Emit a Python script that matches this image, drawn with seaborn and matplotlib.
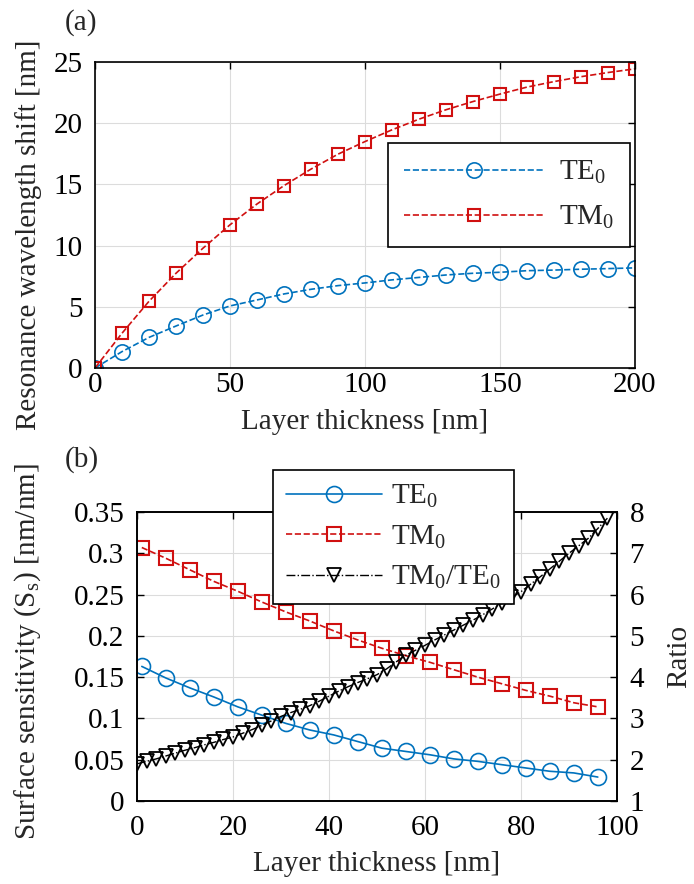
import matplotlib
matplotlib.use("Agg")
import matplotlib.pyplot as plt
import seaborn as sns
import pandas as pd

# (a) resonance wavelength shift vs layer thickness
thick_a = [0, 10, 20, 30, 40, 50, 60, 70, 80, 90, 100,
           110, 120, 130, 140, 150, 160, 170, 180, 190, 200]
shift_te = [0.0, 1.34, 2.5, 3.43, 4.33, 5.07, 5.56, 6.05, 6.43, 6.73, 6.95,
            7.2, 7.4, 7.6, 7.74, 7.82, 7.95, 8.0, 8.07, 8.12, 8.18]
shift_tm = [0.0, 2.84, 5.45, 7.74, 9.79, 11.7, 13.4, 14.9, 16.25, 17.47, 18.5,
            19.46, 20.33, 21.1, 21.77, 22.38, 22.95, 23.4, 23.8, 24.14, 24.44]

# (b) surface sensitivity vs layer thickness
thick_b = [1, 6, 11, 16, 21, 26, 31, 36, 41, 46,
           51, 56, 61, 66, 71, 76, 81, 86, 91, 96]
sens_te = [0.163, 0.149, 0.137, 0.126, 0.114, 0.104, 0.094, 0.086, 0.080, 0.072,
           0.064, 0.060, 0.056, 0.051, 0.048, 0.044, 0.040, 0.036, 0.034, 0.029]
sens_tm = [0.307, 0.294, 0.280, 0.266, 0.254, 0.241, 0.229, 0.218, 0.206, 0.195,
           0.185, 0.176, 0.168, 0.159, 0.150, 0.142, 0.134, 0.127, 0.119, 0.114]
thick_ratio = list(range(0, 100, 2))
ratio = [1.90, 1.96, 2.02, 2.09, 2.16, 2.23, 2.29, 2.36, 2.42, 2.49,
         2.55, 2.64, 2.73, 2.83, 2.94, 3.05, 3.14, 3.22, 3.31, 3.42,
         3.54, 3.66, 3.77, 3.87, 3.96, 4.06, 4.20, 4.37, 4.53, 4.65,
         4.77, 4.90, 5.02, 5.14, 5.26, 5.38, 5.51, 5.65, 5.79, 5.93,
         6.07, 6.25, 6.43, 6.62, 6.81, 7.00, 7.18, 7.36, 7.60, 7.85]

sns.set_theme(style="white")
plt.rcParams["font.family"] = ["Liberation Serif", "DejaVu Serif"]
plt.rcParams["mathtext.fontset"] = "custom"
plt.rcParams["mathtext.rm"] = "Liberation Serif"
plt.rcParams["mathtext.it"] = "Liberation Serif:italic"
plt.rcParams["font.size"] = 21

blue = "#0072BD"
red = "#D01010"
fs = 21


def style_axes(ax, xpad):
    ax.grid(True, color="#DCDCDC", linewidth=0.8)
    ax.set_axisbelow(True)
    for sp in ax.spines.values():
        sp.set_color("black")
        sp.set_linewidth(1.2)
    ax.tick_params(direction="in", length=5, width=1, colors="black",
                   labelsize=fs, top=True)
    ax.tick_params(axis="x", pad=xpad)
    ax.tick_params(axis="y", pad=9)


fig = plt.figure(figsize=(6.94, 8.84), dpi=100)

# ---------- panel (a) ----------
ax1 = fig.add_axes([95 / 694, 1 - 368 / 884, 540 / 694, 306 / 884])
df_a = pd.DataFrame({"x": thick_a, "te": shift_te, "tm": shift_tm})
sns.lineplot(data=df_a, x="x", y="te", ax=ax1, color=blue, linestyle="--",
             linewidth=1.2, marker="o", markersize=11, markerfacecolor="none",
             markeredgecolor=blue, markeredgewidth=1.2, label="TE$_0$")
sns.lineplot(data=df_a, x="x", y="tm", ax=ax1, color=red, linestyle="--",
             linewidth=1.2, marker="s", markersize=8.6, markerfacecolor="none",
             markeredgecolor=red, markeredgewidth=1.5, label="TM$_0$")
ax1.set_xlim(0, 200)
ax1.set_ylim(0, 25)
ax1.set_xticks([0, 50, 100, 150, 200])
ax1.set_yticks([0, 5, 10, 15, 20, 25])
style_axes(ax1, 3)
ax1.tick_params(right=True)
ax1.set_xlabel("Layer thickness [nm]", fontsize=fs, labelpad=8)
ax1.set_ylabel("Resonance wavelength shift [nm]", fontsize=fs)
ax1.yaxis.set_label_coords(-0.098, (368 - 235) / 306)
ax1.legend(loc="upper left", bbox_to_anchor=(388 / 694, 1 - 143 / 884),
           bbox_transform=fig.transFigure, fontsize=fs, frameon=True,
           fancybox=False, edgecolor="black", framealpha=1, borderaxespad=0,
           handlelength=4.8, borderpad=0.55, labelspacing=0.6,
           handletextpad=0.5).get_frame().set_linewidth(1.2)
fig.text(65 / 694, 1 - 23 / 884, "(a)", fontsize=fs, va="center", ha="left")

# ---------- panel (b) ----------
ax2 = fig.add_axes([137 / 694, 1 - 801 / 884, 480 / 694, 289 / 884])
df_b = pd.DataFrame({"x": thick_b, "te": sens_te, "tm": sens_tm})
sns.lineplot(data=df_b, x="x", y="te", ax=ax2, color=blue, linestyle="-",
             linewidth=1.2, marker="o", markersize=11.5, markerfacecolor="none",
             markeredgecolor=blue, markeredgewidth=1.2, label="TE$_0$")
sns.lineplot(data=df_b, x="x", y="tm", ax=ax2, color=red, linestyle="--",
             linewidth=1.2, marker="s", markersize=10, markerfacecolor="none",
             markeredgecolor=red, markeredgewidth=1.5, label="TM$_0$")
ax2.set_xlim(0, 100)
ax2.set_ylim(0, 0.35)
ax2.set_xticks([0, 20, 40, 60, 80, 100])
ax2.set_yticks([0, 0.05, 0.1, 0.15, 0.2, 0.25, 0.3, 0.35])
ax2.set_yticklabels(["0", "0.05", "0.1", "0.15", "0.2", "0.25", "0.3", "0.35"])
style_axes(ax2, 10)
ax2.set_xlabel("Layer thickness [nm]", fontsize=fs, labelpad=7)
ax2.set_ylabel("Surface sensitivity (S$_\\mathrm{s}$) [nm/nm]", fontsize=fs)
ax2.yaxis.set_label_coords((43 - 137) / 480, (801 - 652) / 289)

ax3 = ax2.twinx()
df_r = pd.DataFrame({"x": thick_ratio, "r": ratio})
sns.lineplot(data=df_r, x="x", y="r", ax=ax3, color="black", linestyle="-.",
             linewidth=1.0, marker="v", markersize=10, markerfacecolor="none",
             markeredgecolor="black", markeredgewidth=1.3,
             label="TM$_0$/TE$_0$", legend=False)
ax3.set_ylim(1, 8)
ax3.set_yticks(range(1, 9))
ax3.tick_params(direction="in", length=5, width=1, colors="black",
                labelsize=fs, right=True, pad=9)
for sp in ax3.spines.values():
    sp.set_color("black")
    sp.set_linewidth(1.2)
ax3.set_ylabel("Ratio", fontsize=fs, labelpad=16)
ax3.set_xlim(0, 100)

if ax2.get_legend() is not None:
    ax2.get_legend().remove()
handles = ax2.get_lines()[:2] + ax3.get_lines()[:1]
labels = ["TE$_0$", "TM$_0$", "TM$_0$/TE$_0$"]
leg = ax3.legend(handles, labels, loc="upper left",
                 bbox_to_anchor=(273 / 694, 1 - 470 / 884),
                 bbox_transform=fig.transFigure, fontsize=fs, frameon=True,
                 fancybox=False, edgecolor="black", framealpha=1, borderaxespad=0,
                 handlelength=3.3, borderpad=0.45, labelspacing=0.45,
                 handletextpad=0.3)
leg.get_frame().set_linewidth(1.2)
fig.text(65 / 694, 1 - 460 / 884, "(b)", fontsize=fs, va="center", ha="left")

fig.savefig("out.png", dpi=100)
